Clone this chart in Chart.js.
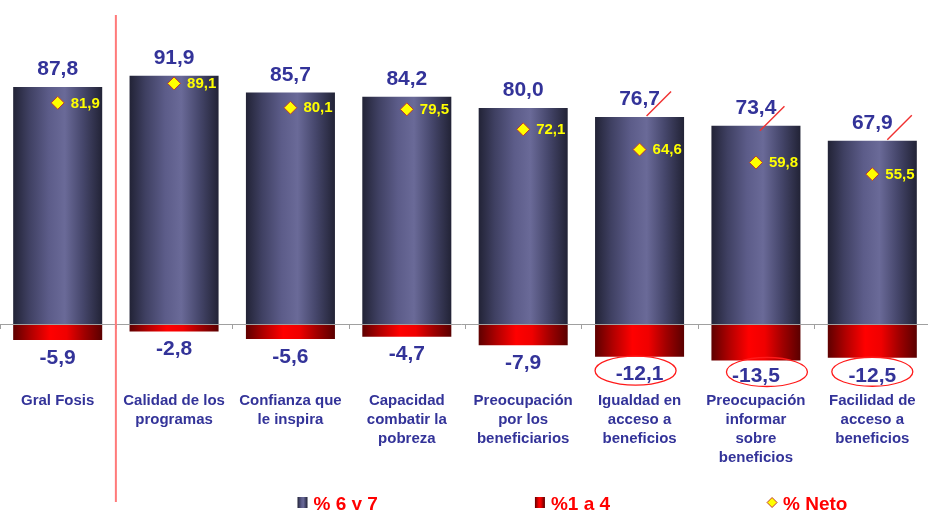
<!DOCTYPE html>
<html><head><meta charset="utf-8">
<script src="https://cdn.jsdelivr.net/npm/chart.js@4.4.0/dist/chart.umd.min.js"></script>
<style>
html,body{margin:0;padding:0;background:#fff;overflow:hidden;width:928px;height:510px;}
#wrap{position:absolute;left:-8.5px;top:0;width:946px;height:510px;}
</style></head><body>
<div id="wrap"><canvas id="c"></canvas></div>
<script>
// ---- data ----
const categories = [
  ["Gral Fosis"],
  ["Calidad de los","programas"],
  ["Confianza que","le inspira"],
  ["Capacidad","combatir la","pobreza"],
  ["Preocupación","por los","beneficiarios"],
  ["Igualdad en","acceso a","beneficios"],
  ["Preocupación","informar","sobre","beneficios"],
  ["Facilidad de","acceso a","beneficios"]
];
const pct6y7 = [87.8, 91.9, 85.7, 84.2, 80.0, 76.7, 73.4, 67.9];
const pct1a4 = [-5.9, -2.8, -5.6, -4.7, -7.9, -12.1, -13.5, -12.5];
const pctNeto = [81.9, 89.1, 80.1, 79.5, 72.1, 64.6, 59.8, 55.5];
const seriesNames = ["% 6 y 7", "%1 a 4", "% Neto"];
const highlighted = [5, 6, 7];
const separatorAfter = 0;

// ---- styling ----
const FONT = "'Liberation Sans', Arial, sans-serif";
const NAVY_TEXT = '#333399';
const BAR_PCT = 0.765;
const navyStops = [[0,'#222336'],[0.18,'#3f4062'],[0.4,'#5c5c89'],[0.58,'#6a6a98'],[0.78,'#46476c'],[1,'#222336']];
const redStops = [[0,'#5e0000'],[0.2,'#b00000'],[0.42,'#ff0000'],[0.6,'#f00000'],[0.8,'#a00000'],[1,'#5a0000']];
const fmt = v => v.toFixed(1).replace('.', ',');

function grad(ctx2d, x0, x1, stops) {
  const g = ctx2d.createLinearGradient(x0, 0, x1, 0);
  stops.forEach(s => g.addColorStop(s[0], s[1]));
  return g;
}
function barFill(stops, fallback) {
  return (c) => {
    const ch = c.chart;
    if (!ch.chartArea || c.type !== 'data') return fallback;
    const xs = ch.scales.x;
    const cx = xs.getPixelForValue(c.dataIndex);
    const w = xs.width / categories.length * BAR_PCT;
    if (!isFinite(cx)) return fallback;
    return grad(ch.ctx, cx - w / 2, cx + w / 2, stops);
  };
}

Chart.defaults.font.family = FONT;

const decor = {
  id: 'decor',
  afterDatasetsDraw(chart) {
    const {ctx, chartArea: a, scales: {x, y}} = chart;
    const n = categories.length;
    const cw = (a.right - a.left) / n;
    const y0 = y.getPixelForValue(0);
    const lowLabelY = i => Math.min(y.getPixelForValue(pct1a4[i]) + 18, y0 + 52);
    ctx.save();
    // zero line + ticks
    ctx.strokeStyle = '#a0a0a0';
    ctx.lineWidth = 1;
    ctx.beginPath();
    ctx.moveTo(0, Math.round(y0) + 0.5);
    ctx.lineTo(a.right, Math.round(y0) + 0.5);
    for (let i = 0; i <= n; i++) {
      const bx = Math.round(a.left + i * cw) + 0.5;
      ctx.moveTo(bx, Math.round(y0));
      ctx.lineTo(bx, Math.round(y0) + 5);
    }
    ctx.stroke();

    // separator
    const sx = a.left + (separatorAfter + 1) * cw;
    ctx.strokeStyle = '#ff7a7a';
    ctx.lineWidth = 2;
    ctx.beginPath();
    ctx.moveTo(sx, 15);
    ctx.lineTo(sx, chart.height - 8);
    ctx.stroke();

    // value labels
    ctx.textBaseline = 'middle';
    ctx.textAlign = 'center';
    ctx.fillStyle = NAVY_TEXT;
    ctx.font = 'bold 21px ' + FONT;
    for (let i = 0; i < n; i++) {
      const cx = x.getPixelForValue(i);
      ctx.fillText(fmt(pct6y7[i]), cx, y.getPixelForValue(pct6y7[i]) - 17.5);
      ctx.fillText(fmt(pct1a4[i]), cx, lowLabelY(i));
    }
    // neto labels
    ctx.textAlign = 'left';
    ctx.font = 'bold 15px ' + FONT;
    ctx.fillStyle = '#ffff00';
    for (let i = 0; i < n; i++) {
      const cx = x.getPixelForValue(i);
      ctx.fillText(fmt(pctNeto[i]), cx + 13, y.getPixelForValue(pctNeto[i]) + 0.5);
    }
    // highlight marks
    const ellDx = {5: -4, 6: 11, 7: 0};
    const slashD = {5: [7, -1], 6: [4, 5], 7: [15, -1]};
    highlighted.forEach(i => {
      const cx = x.getPixelForValue(i);
      const ty = y.getPixelForValue(pct6y7[i]);
      const d = slashD[i] || [8, 0];
      ctx.strokeStyle = '#f03030';
      ctx.lineWidth = 1.5;
      ctx.beginPath();
      ctx.moveTo(cx + d[0], ty + d[1]);
      ctx.lineTo(cx + d[0] + 24.5, ty + d[1] - 24.5);
      ctx.stroke();
      const ly = lowLabelY(i);
      ctx.lineWidth = 1.3;
      ctx.strokeStyle = '#ff1a1a';
      ctx.beginPath();
      ctx.ellipse(cx + (ellDx[i] || 0), ly - 4, 40.5, 14.5, 0, 0, Math.PI * 2);
      ctx.stroke();
    });

    // legend
    const lgY = 502.5;
    ctx.font = 'bold 19px ' + FONT;
    ctx.textBaseline = 'alphabetic';
    ctx.textAlign = 'left';
    let lx = 305.5;
    seriesNames.forEach((name, k) => {
      if (k < 2) {
        ctx.fillStyle = grad(ctx, lx, lx + 10, k === 0 ? navyStops : redStops);
        ctx.fillRect(lx, lgY - 5.5, 10, 11);
      } else {
        ctx.beginPath();
        ctx.moveTo(lx + 5, lgY - 5);
        ctx.lineTo(lx + 10, lgY);
        ctx.lineTo(lx + 5, lgY + 5);
        ctx.lineTo(lx, lgY);
        ctx.closePath();
        ctx.fillStyle = '#ffff00';
        ctx.fill();
        ctx.strokeStyle = '#c0392b';
        ctx.lineWidth = 1;
        ctx.stroke();
      }
      const tx = lx + 16;
      ctx.fillStyle = '#ff0000';
      ctx.fillText(name, tx, 509.5);
      lx = tx + ctx.measureText(name).width + 157;
    });
    ctx.restore();
  }
};

new Chart(document.getElementById('c'), {
  data: {
    labels: categories,
    datasets: [
      { type: 'line', label: seriesNames[2], data: pctNeto, showLine: false, order: 0,
        pointStyle: 'rectRot', pointRadius: 6.5, pointBackgroundColor: '#ffff00',
        pointBorderColor: '#c0392b', pointBorderWidth: 1 },
      { type: 'bar', label: seriesNames[0], data: pct6y7, order: 1,
        backgroundColor: barFill(navyStops, '#4a4a70'), borderWidth: 0,
        categoryPercentage: 1, barPercentage: BAR_PCT },
      { type: 'bar', label: seriesNames[1], data: pct1a4, order: 1,
        backgroundColor: barFill(redStops, '#cc0000'), borderWidth: 0,
        categoryPercentage: 1, barPercentage: BAR_PCT }
    ]
  },
  options: {
    responsive: true,
    maintainAspectRatio: false,
    animation: false,
    events: [],
    layout: { padding: { top: 54, bottom: 36.6, left: 0, right: 0 } },
    plugins: { legend: { display: false }, tooltip: { enabled: false } },
    scales: {
      x: {
        stacked: true,
        grid: { display: false },
        border: { display: false },
        afterFit: s => { s.height = 90; },
        ticks: {
          color: NAVY_TEXT, autoSkip: false, maxRotation: 0, padding: 0,
          font: { size: 15, weight: 'bold', lineHeight: 1.27 }
        }
      },
      y: {
        stacked: true, display: false, min: -22, max: 100
      }
    }
  },
  plugins: [decor]
});
</script>
</body></html>
